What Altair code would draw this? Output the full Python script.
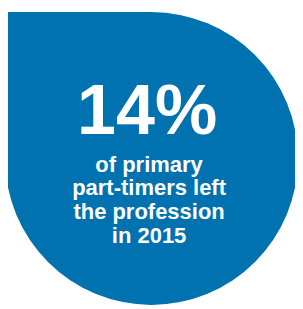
import altair as alt
import pandas as pd

# Data
share_values = [14]  # percent of primary part-timers who left
caption_lines = ["of primary", "part-timers left", "the profession", "in 2015"]

BLUE = "#0072AF"
FONT = "Liberation Sans"

W, H = 295, 301
CX, CY, R = 147.5, 150.5, 150.5

df = pd.DataFrame({"value": share_values, "caption": ["\n".join(caption_lines)]})
base = alt.Chart(df)

circle = base.mark_arc(color=BLUE, radius=R, theta=0, theta2=6.2832).encode(
    x=alt.value(CX), y=alt.value(CY)
)
corner = base.mark_rect(color=BLUE).encode(
    x=alt.value(CX - R), x2=alt.value(CX), y=alt.value(CY - R), y2=alt.value(CY)
)
big = base.transform_calculate(label="datum.value + '%'").mark_text(
    font=FONT, fontWeight="bold", fontSize=72, color="white",
    align="center", baseline="alphabetic"
).encode(x=alt.value(143), y=alt.value(125), text="label:N")

cap = base.mark_text(
    font=FONT, fontWeight="bold", fontSize=22.6, color="white",
    align="center", baseline="alphabetic", lineBreak="\n", lineHeight=24.5
).encode(x=alt.value(145), y=alt.value(164), text="caption:N")

chart = (circle + corner + big + cap).properties(
    width=W, height=H, padding=0, autosize=alt.AutoSizeParams(type="none")
).configure_view(stroke=None)

chart.save("out.html", embed_options={"renderer": "svg", "actions": False})
